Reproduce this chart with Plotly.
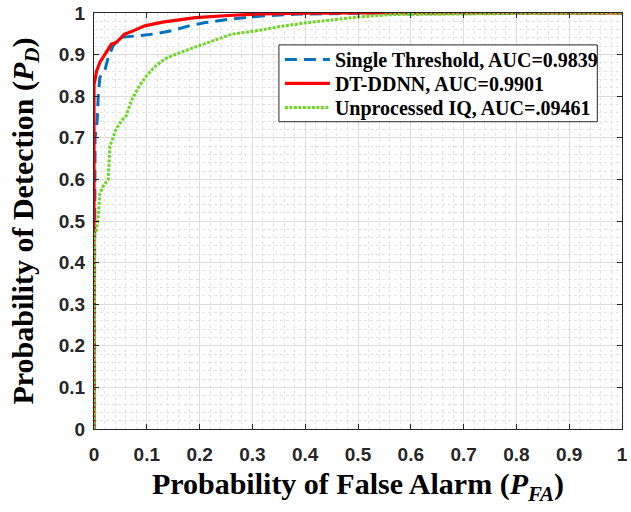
import plotly.graph_objects as go

# ---- data ----
single_x = [0, 0.002, 0.006, 0.008, 0.011, 0.021, 0.027, 0.036, 0.049, 0.065, 0.080, 0.117, 0.149, 0.180, 0.211, 0.255, 0.317, 0.380, 0.45, 0.52, 1.0]
single_y = [0, 0.70, 0.74, 0.80, 0.845, 0.865, 0.893, 0.921, 0.941, 0.944, 0.945, 0.950, 0.958, 0.969, 0.977, 0.985, 0.993, 0.997, 0.999, 1.0, 1.0]

dtddnn_x = [0, 0, 0.002, 0.005, 0.011, 0.021, 0.033, 0.042, 0.058, 0.074, 0.096, 0.130, 0.192, 0.255, 0.317, 0.41, 0.5, 1.0]
dtddnn_y = [0, 0.829, 0.840, 0.861, 0.881, 0.901, 0.925, 0.929, 0.949, 0.957, 0.969, 0.978, 0.989, 0.994, 0.998, 0.9995, 1.0, 1.0]

iq_x = [0, 0.001, 0.004, 0.008, 0.011, 0.018, 0.027, 0.030, 0.036, 0.042, 0.052, 0.061, 0.071, 0.086, 0.100, 0.117, 0.135, 0.155, 0.198, 0.230, 0.261, 0.311, 0.350, 0.404, 0.450, 0.498, 0.560, 0.620, 0.685, 0.800, 1.0]
iq_y = [0, 0.47, 0.473, 0.51, 0.565, 0.585, 0.600, 0.680, 0.700, 0.721, 0.741, 0.753, 0.790, 0.825, 0.850, 0.873, 0.890, 0.901, 0.921, 0.936, 0.949, 0.958, 0.967, 0.977, 0.984, 0.990, 0.996, 0.997, 0.998, 0.999, 1.0]

names = ["Single Threshold, AUC=0.9839", "DT-DDNN, AUC=0.9901", "Unprocessed IQ, AUC=.09461"]
tick_vals = [0, 0.1, 0.2, 0.3, 0.4, 0.5, 0.6, 0.7, 0.8, 0.9, 1]
tick_text = ["0", "0.1", "0.2", "0.3", "0.4", "0.5", "0.6", "0.7", "0.8", "0.9", "1"]

fig = go.Figure()
fig.add_trace(go.Scatter(x=single_x, y=single_y, mode="lines", name=names[0], legend="legend",
                         line=dict(color="#0072BD", width=3, dash="12px,7px")))
fig.add_trace(go.Scatter(x=dtddnn_x, y=dtddnn_y, mode="lines", name=names[1], legend="legend2",
                         line=dict(color="#FF0000", width=3.2)))
fig.add_trace(go.Scatter(x=iq_x, y=iq_y, mode="lines", name=names[2], legend="legend3",
                         line=dict(color="#6ED626", width=3, dash="3px,1.5px")))

axis_common = dict(
    range=[0, 1], tickvals=tick_vals, ticktext=tick_text,
    showline=True, linecolor="#262626", linewidth=1, mirror="ticks",
    ticks="inside", ticklen=5, tickcolor="#262626", tickwidth=1,
    showgrid=True, gridcolor="#DCDCDC", gridwidth=1, zeroline=False,
    ticklabeloverflow="allow",
    tickfont=dict(family="Liberation Sans", size=19, color="#262626", weight="bold"),
    minor=dict(dtick=0.02, tick0=0, showgrid=True, gridcolor="#E4E4E4", griddash="dot", gridwidth=1),
)

title_font = dict(family="Liberation Serif", size=30, color="black", weight="bold")
legend_font = dict(family="Liberation Serif", size=20, color="black", weight="bold")

def leg(yc):
    return dict(x=0.3521, y=yc, xanchor="left", yanchor="middle",
                bgcolor="rgba(0,0,0,0)", borderwidth=0,
                font=legend_font, itemwidth=45)

fig.update_layout(
    width=631, height=512,
    margin=dict(l=94, r=3, t=12, b=83),
    paper_bgcolor="white", plot_bgcolor="white",
    xaxis=dict(**axis_common, ticklabelstandoff=8,
               title=dict(text="Probability of False Alarm (<i>P</i><sub><i>FA</i></sub>)",
                          font=title_font, standoff=9)),
    yaxis=dict(**axis_common, ticklabelstandoff=4,
               title=dict(text="Probability of Detection (<i>P</i><sub><i>D</i></sub>)",
                          font=title_font, standoff=16)),
    legend=leg(0.888),
    legend2=leg(0.831),
    legend3=leg(0.773),
    shapes=[dict(type="rect", xref="paper", yref="paper",
                 x0=0.3502, x1=0.9532, y0=0.7386, y1=0.9233,
                 fillcolor="white", line=dict(color="#262626", width=1), layer="above")],
    showlegend=True,
)

fig.write_html("out.html")
